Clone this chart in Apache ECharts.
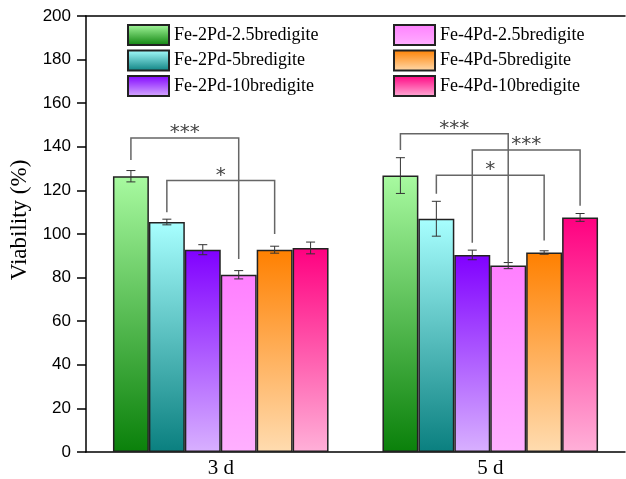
<!DOCTYPE html>
<html>
<head>
<meta charset="utf-8">
<script src="https://cdn.jsdelivr.net/npm/echarts@6/dist/echarts.min.js"></script>
<style>html,body{margin:0;padding:0;background:#fff}#c{width:626px;height:479px}</style>
</head>
<body>
<div id="c"></div>
<script>
var categories = ['3 d', '5 d'];
var names = ['Fe-2Pd-2.5bredigite','Fe-2Pd-5bredigite','Fe-2Pd-10bredigite','Fe-4Pd-2.5bredigite','Fe-4Pd-5bredigite','Fe-4Pd-10bredigite'];
var v1 = [126.5, 126.8], e1 = [2.6, 8.2];
var v2 = [105.5, 107.0], e2 = [1.3, 8.0];
var v3 = [92.8, 90.4],   e3 = [2.3, 2.2];
var v4 = [81.3, 85.5],   e4 = [1.9, 1.4];
var v5 = [92.8, 91.5],   e5 = [1.6, 0.8];
var v6 = [93.6, 107.6],  e6 = [2.7, 1.8];
var yTicks = [0, 20, 40, 60, 80, 100, 120, 140, 160, 180, 200];
// significance brackets: [category, fromBar, toBar, leftEnd, top, rightEnd, label]
var brackets = [
  [0, 0, 3, 134, 144, 88.5, '***'],
  [0, 1, 4, 110, 124.5, 100, '*'],
  [1, 0, 3, 138.5, 146, 87, '***'],
  [1, 2, 5, 96, 138.5, 113, '***'],
  [1, 1, 4, 118.5, 127, 97, '*']
];
var topColors = ['#a8faa0','#a8ffff','#8000ff','#ff80ff','#ff8000','#ff0080'];
var botColors = ['#0a800a','#0a7f7f','#d8b0ff','#ffb0ff','#ffdcb0','#ffb0d8'];

var values = [v1, v2, v3, v4, v5, v6];
var errors = [e1, e2, e3, e4, e5, e6];
var nBars = 6, catGap = 0.2;

function barX(api, cat, idx) {
  var c = api.coord([cat, 0])[0];
  var bw = api.size([1, 0])[0] * (1 - catGap) / nBars;
  return c + (idx - (nBars - 1) / 2) * bw;
}

var series = [];
values.forEach(function (v, i) {
  series.push({
    name: names[i], type: 'bar', data: v,
    barGap: '0%', barCategoryGap: '20%',
    itemStyle: {
      color: new echarts.graphic.LinearGradient(0, 0, 0, 1, [
        {offset: 0, color: topColors[i]}, {offset: 1, color: botColors[i]}
      ]),
      borderColor: '#222', borderWidth: 1.5
    }
  });
});

var errData = [];
errors.forEach(function (e, i) {
  e.forEach(function (ev, c) { errData.push([c, i, values[i][c], ev]); });
});
series.push({
  type: 'custom', z: 5, silent: true,
  data: errData,
  renderItem: function (params, api) {
    var cat = api.value(0), idx = api.value(1), v = api.value(2), e = api.value(3);
    var x = barX(api, cat, idx);
    var yt = api.coord([cat, v + e])[1], yb = api.coord([cat, v - e])[1];
    var hw = 4.5;
    var st = {stroke: '#333', lineWidth: 1};
    return {type: 'group', children: [
      {type: 'line', shape: {x1: x, y1: yt, x2: x, y2: yb}, style: st},
      {type: 'line', shape: {x1: x - hw, y1: yt, x2: x + hw, y2: yt}, style: st},
      {type: 'line', shape: {x1: x - hw, y1: yb, x2: x + hw, y2: yb}, style: st}
    ]};
  }
});

series.push({
  type: 'custom', z: 6, silent: true,
  data: brackets,
  renderItem: function (params, api) {
    var b = brackets[params.dataIndex];
    var cat = b[0];
    var x1 = barX(api, cat, b[1]), x2 = barX(api, cat, b[2]);
    var yl = api.coord([cat, b[3]])[1], yt = api.coord([cat, b[4]])[1], yr = api.coord([cat, b[5]])[1];
    return {type: 'group', children: [
      {type: 'polyline', shape: {points: [[x1, yl], [x1, yt], [x2, yt], [x2, yr]]},
       style: {stroke: '#666', lineWidth: 1.5, fill: null}},
      {type: 'text', x: (x1 + x2) / 2, y: yt + 5,
       style: {text: b[6], align: 'center', verticalAlign: 'bottom', fill: '#444',
               font: '20px "DejaVu Sans"'}}
    ]};
  }
});

var legendCommon = {
  orient: 'vertical', itemWidth: 41, itemHeight: 20, itemGap: 3.5,
  textStyle: {fontFamily: 'Liberation Serif', fontSize: 18, color: '#000'},
  icon: 'rect'
};

var chart = echarts.init(document.getElementById('c'), null, {renderer: 'canvas'});
chart.setOption({
  animation: false,
  backgroundColor: '#fff',
  grid: {left: 86, right: 1, top: 16, bottom: 26},
  legend: [
    Object.assign({left: 122, top: 19, data: names.slice(0, 3)}, legendCommon),
    Object.assign({left: 388, top: 19, data: names.slice(3)}, legendCommon)
  ],
  xAxis: [{
    type: 'category', data: categories, position: 'bottom',
    axisLine: {lineStyle: {color: '#000', width: 1.5}},
    axisTick: {show: false},
    axisLabel: {fontFamily: 'Liberation Serif', fontSize: 21, color: '#000', margin: 6}
  }, {
    type: 'category', data: categories, position: 'top',
    axisLine: {lineStyle: {color: '#000', width: 1.5}},
    axisTick: {show: false}, axisLabel: {show: false}
  }],
  yAxis: {
    type: 'value', min: yTicks[0], max: yTicks[yTicks.length - 1], interval: yTicks[1] - yTicks[0],
    name: 'Viability (%)', nameLocation: 'middle', nameGap: 54,
    nameTextStyle: {fontFamily: 'Liberation Serif', fontSize: 23, color: '#000', padding: [0, 0, 0, 28]},
    axisLine: {show: true, lineStyle: {color: '#000', width: 1.5}},
    axisTick: {show: true, inside: false, length: 9, lineStyle: {color: '#000', width: 1.5}},
    axisLabel: {fontFamily: 'Liberation Sans', fontSize: 17, color: '#000', margin: 15},
    splitLine: {show: false}
  },
  series: series
});
</script>
</body>
</html>
